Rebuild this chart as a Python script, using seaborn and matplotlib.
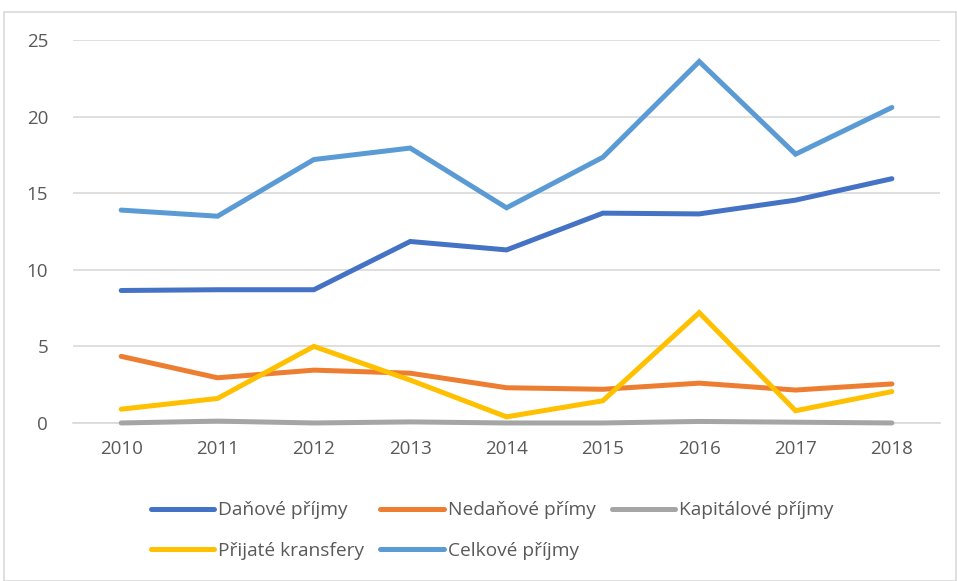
import numpy as np
import pandas as pd
import seaborn as sns
import matplotlib.pyplot as plt

roky = [2010, 2011, 2012, 2013, 2014, 2015, 2016, 2017, 2018]
danove = [8.65, 8.7, 8.7, 11.85, 11.3, 13.7, 13.65, 14.55, 15.95]
nedanove = [4.35, 2.95, 3.45, 3.25, 2.3, 2.2, 2.6, 2.15, 2.55]
kapitalove = [0.0, 0.12, 0.0, 0.07, 0.0, 0.0, 0.1, 0.05, 0.0]
transfery = [0.9, 1.6, 5.0, 2.8, 0.4, 1.45, 7.2, 0.8, 2.05]
celkove = [13.9, 13.5, 17.2, 17.95, 14.05, 17.35, 23.6, 17.55, 20.6]

nazvy = ["Daňové příjmy", "Nedaňové přímy", "Kapitálové příjmy",
         "Přijaté kransfery", "Celkové příjmy"]
barvy = ["#4472C4", "#ED7D31", "#A5A5A5", "#FFC000", "#5B9BD5"]

df = pd.DataFrame({"rok": [str(r) for r in roky]})
for n, v in zip(nazvy, [danove, nedanove, kapitalove, transfery, celkove]):
    df[n] = v
long = df.melt(id_vars="rok", var_name="serie", value_name="hodnota")

sns.set_style("white")
plt.rcParams["font.family"] = ["Open Sans", "DejaVu Sans"]

fig = plt.figure(figsize=(9.57, 5.81), dpi=100)
ax = fig.add_axes([0.0763, 0.272, 0.906, 0.659])

sns.lineplot(data=long, x="rok", y="hodnota", hue="serie", palette=barvy,
             hue_order=nazvy, linewidth=3.6, ax=ax, sort=False,
             solid_capstyle="round", solid_joinstyle="miter")
for ln in ax.lines:
    ln.set_clip_on(False)

ax.set_xlim(-0.5, len(roky) - 0.5)
ax.set_ylim(0, 25)
ax.set_yticks([0, 5, 10, 15, 20, 25])
ax.yaxis.grid(True, color="#D9D9D9", linewidth=1.2)
ax.set_axisbelow(True)
for s in ["top", "right", "left"]:
    ax.spines[s].set_visible(False)
ax.spines["bottom"].set_color("#D9D9D9")
ax.spines["bottom"].set_linewidth(1.2)
ax.spines["bottom"].set_zorder(0)
ax.tick_params(axis="both", length=0, labelsize=13.5, colors="#595959", pad=12)
ax.tick_params(axis="y", pad=18)
ax.set_xlabel("")
ax.set_ylabel("")

# legenda po radcich: matplotlib plni sloupce, proto preskladat
h, l = ax.get_legend_handles_labels()
poradi = [0, 3, 1, 4, 2]
ax.legend([h[i] for i in poradi], [l[i] for i in poradi], ncol=3,
          loc="upper left", bbox_to_anchor=(0.07, -0.16),
          frameon=False, fontsize=13.8, handlelength=3.3, handletextpad=0.2,
          columnspacing=0.85, labelspacing=1.15, labelcolor="#595959")

# okraj grafu
fig.patches.append(plt.Rectangle((0.004, 0.0), 0.995, 0.98, transform=fig.transFigure,
                                 fill=False, edgecolor="#D9D9D9", linewidth=1.2))

fig.savefig("out.png", dpi=100)
